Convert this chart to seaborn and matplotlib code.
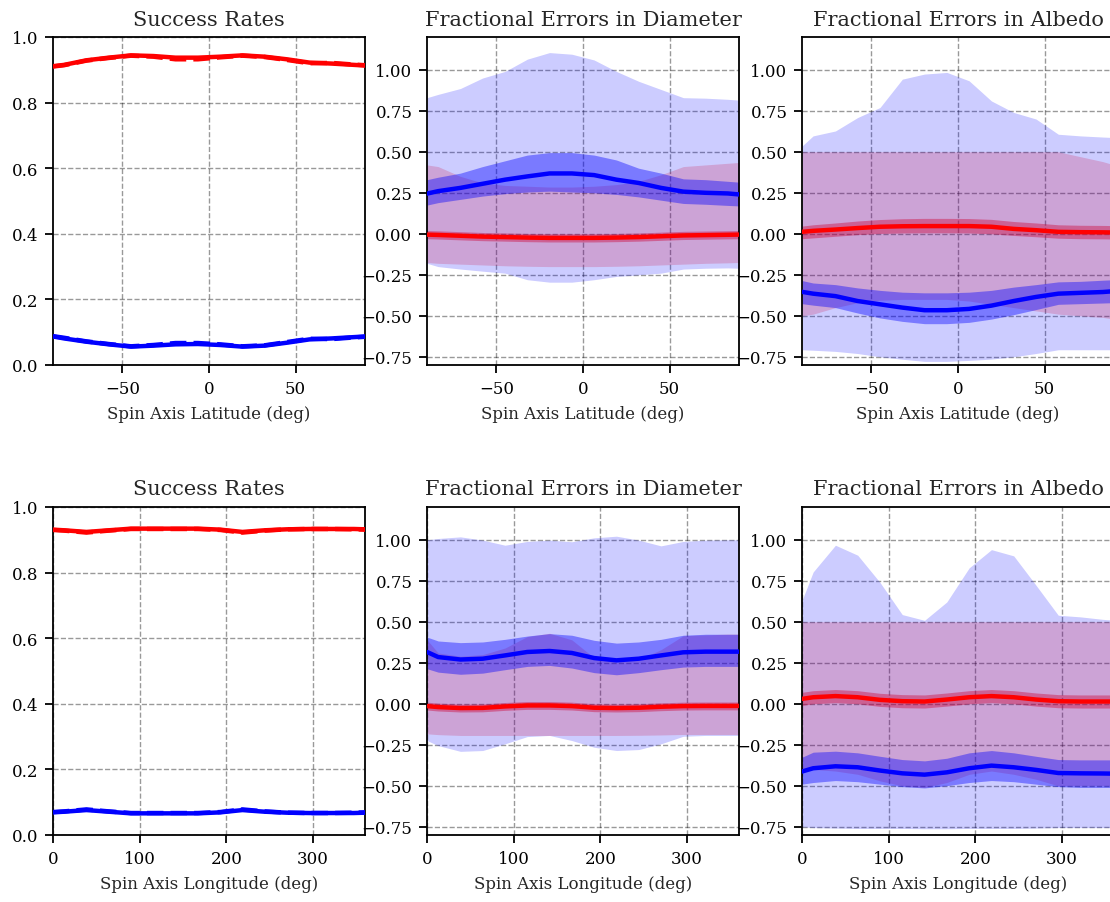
import matplotlib
matplotlib.use("Agg")
import matplotlib.pyplot as plt
import seaborn as sns
import pandas as pd

# ---------------- data ----------------
lat = [-90, -83.6, -70.7, -57.9, -45.0, -32.1, -19.3, -6.4, 6.4, 19.3, 32.1, 45.0, 57.9, 70.7, 83.6, 90]
lon = [0, 12.9, 38.6, 64.3, 90.0, 115.7, 141.4, 167.1, 192.9, 218.6, 244.3, 270.0, 295.7, 321.4, 347.1, 360]

# success rates vs latitude
succ_lat_red = [0.911, 0.915, 0.929, 0.937, 0.944, 0.942, 0.937, 0.937, 0.940, 0.944, 0.940, 0.932, 0.922, 0.919, 0.915, 0.913]
succ_lat_red_alt = [0.910, 0.914, 0.928, 0.936, 0.943, 0.940, 0.932, 0.932, 0.938, 0.943, 0.939, 0.930, 0.920, 0.921, 0.916, 0.914]
succ_lat_blue = [0.087, 0.081, 0.071, 0.063, 0.056, 0.059, 0.063, 0.064, 0.061, 0.056, 0.059, 0.068, 0.078, 0.081, 0.085, 0.087]
succ_lat_blue_alt = [0.088, 0.083, 0.072, 0.064, 0.057, 0.061, 0.067, 0.067, 0.063, 0.057, 0.060, 0.070, 0.080, 0.079, 0.084, 0.086]

# success rates vs longitude
succ_lon_red = [0.931, 0.929, 0.924, 0.929, 0.934, 0.934, 0.934, 0.934, 0.931, 0.924, 0.929, 0.932, 0.933, 0.933, 0.933, 0.932]
succ_lon_red_alt = [0.930, 0.928, 0.922, 0.928, 0.933, 0.933, 0.933, 0.933, 0.930, 0.922, 0.928, 0.932, 0.933, 0.933, 0.932, 0.931]
succ_lon_blue = [0.069, 0.071, 0.076, 0.071, 0.066, 0.066, 0.066, 0.066, 0.069, 0.076, 0.071, 0.068, 0.067, 0.067, 0.067, 0.068]
succ_lon_blue_alt = [0.070, 0.072, 0.078, 0.072, 0.067, 0.067, 0.067, 0.067, 0.070, 0.078, 0.072, 0.068, 0.067, 0.067, 0.068, 0.069]

# diameter errors vs latitude
dlat_blue_line = [0.245, 0.26, 0.28, 0.305, 0.33, 0.35, 0.368, 0.368, 0.358, 0.33, 0.31, 0.28, 0.257, 0.25, 0.246, 0.24]
dlat_blue_in_hi = [0.33, 0.345, 0.37, 0.41, 0.445, 0.48, 0.495, 0.495, 0.48, 0.45, 0.40, 0.37, 0.335, 0.33, 0.32, 0.315]
dlat_blue_in_lo = [0.175, 0.19, 0.21, 0.23, 0.245, 0.255, 0.26, 0.255, 0.25, 0.24, 0.225, 0.205, 0.185, 0.18, 0.173, 0.17]
dlat_blue_out_hi = [0.83, 0.85, 0.886, 0.95, 0.99, 1.065, 1.105, 1.095, 1.06, 0.99, 0.93, 0.88, 0.83, 0.827, 0.82, 0.815]
dlat_blue_out_lo = [-0.18, -0.20, -0.215, -0.228, -0.24, -0.28, -0.295, -0.295, -0.28, -0.26, -0.25, -0.24, -0.215, -0.21, -0.208, -0.21]
dlat_red_line = [-0.005, -0.007, -0.012, -0.017, -0.02, -0.023, -0.025, -0.025, -0.025, -0.023, -0.02, -0.015, -0.01, -0.008, -0.006, -0.005]
dlat_red_in_hi = [0.02, 0.018, 0.013, 0.008, 0.005, 0.002, 0.0, 0.0, 0.0, 0.002, 0.005, 0.01, 0.015, 0.017, 0.019, 0.02]
dlat_red_in_lo = [-0.03, -0.032, -0.037, -0.042, -0.045, -0.048, -0.05, -0.05, -0.05, -0.048, -0.045, -0.04, -0.035, -0.033, -0.031, -0.03]
dlat_red_out_hi = [0.42, 0.41, 0.35, 0.31, 0.295, 0.29, 0.285, 0.285, 0.29, 0.30, 0.32, 0.36, 0.41, 0.42, 0.43, 0.435]
dlat_red_out_lo = [-0.175, -0.18, -0.185, -0.19, -0.195, -0.198, -0.2, -0.2, -0.2, -0.198, -0.195, -0.19, -0.185, -0.18, -0.177, -0.175]

# albedo errors vs latitude
alat_blue_line = [-0.354, -0.365, -0.38, -0.41, -0.43, -0.45, -0.466, -0.466, -0.458, -0.438, -0.41, -0.385, -0.365, -0.36, -0.355, -0.35]
alat_blue_in_hi = [-0.285, -0.30, -0.31, -0.33, -0.345, -0.356, -0.36, -0.36, -0.356, -0.345, -0.325, -0.31, -0.293, -0.29, -0.283, -0.28]
alat_blue_in_lo = [-0.426, -0.435, -0.45, -0.483, -0.513, -0.534, -0.548, -0.548, -0.54, -0.52, -0.493, -0.462, -0.43, -0.426, -0.422, -0.42]
alat_blue_out_hi = [0.535, 0.597, 0.627, 0.709, 0.77, 0.943, 0.974, 0.984, 0.933, 0.81, 0.74, 0.70, 0.607, 0.597, 0.59, 0.587]
alat_blue_out_lo = [-0.707, -0.71, -0.717, -0.73, -0.75, -0.765, -0.778, -0.778, -0.772, -0.764, -0.75, -0.73, -0.707, -0.707, -0.707, -0.707]
alat_red_line = [0.012, 0.018, 0.026, 0.035, 0.043, 0.046, 0.047, 0.047, 0.047, 0.043, 0.03, 0.022, 0.012, 0.01, 0.009, 0.008]
alat_red_in_hi = [0.047, 0.055, 0.066, 0.078, 0.087, 0.092, 0.094, 0.094, 0.093, 0.088, 0.075, 0.066, 0.055, 0.052, 0.051, 0.05]
alat_red_in_lo = [-0.03, -0.025, -0.015, -0.005, 0.002, 0.005, 0.006, 0.006, 0.005, 0.0, -0.01, -0.018, -0.027, -0.03, -0.031, -0.032]
alat_red_out_hi = [0.50, 0.50, 0.50, 0.50, 0.50, 0.50, 0.50, 0.50, 0.50, 0.50, 0.50, 0.50, 0.50, 0.47, 0.44, 0.42]
alat_red_out_lo = [-0.50, -0.49, -0.45, -0.42, -0.405, -0.40, -0.40, -0.40, -0.41, -0.43, -0.45, -0.47, -0.49, -0.50, -0.51, -0.52]

# diameter errors vs longitude
dlon_blue_line = [0.316, 0.285, 0.27, 0.275, 0.295, 0.316, 0.322, 0.31, 0.279, 0.265, 0.275, 0.295, 0.314, 0.318, 0.318, 0.318]
dlon_blue_in_hi = [0.407, 0.383, 0.373, 0.377, 0.393, 0.413, 0.428, 0.418, 0.387, 0.37, 0.377, 0.393, 0.418, 0.424, 0.424, 0.424]
dlon_blue_in_lo = [0.214, 0.193, 0.18, 0.187, 0.208, 0.228, 0.234, 0.218, 0.19, 0.177, 0.19, 0.208, 0.224, 0.228, 0.228, 0.228]
dlon_blue_out_hi = [1.0, 1.008, 1.018, 0.998, 0.967, 0.99, 0.998, 0.988, 1.012, 1.022, 0.998, 0.963, 0.99, 0.998, 1.0, 1.0]
dlon_blue_out_lo = [-0.224, -0.255, -0.29, -0.285, -0.244, -0.20, -0.193, -0.224, -0.265, -0.285, -0.279, -0.244, -0.198, -0.193, -0.193, -0.193]
dlon_red_line = [-0.014, -0.02, -0.026, -0.025, -0.016, -0.01, -0.01, -0.014, -0.024, -0.026, -0.024, -0.018, -0.014, -0.013, -0.013, -0.013]
dlon_red_in_hi = [0.01, 0.004, -0.002, -0.001, 0.008, 0.014, 0.014, 0.01, 0.0, -0.002, 0.0, 0.006, 0.01, 0.011, 0.011, 0.011]
dlon_red_in_lo = [-0.038, -0.044, -0.05, -0.049, -0.04, -0.034, -0.034, -0.038, -0.048, -0.05, -0.048, -0.042, -0.038, -0.037, -0.037, -0.037]
dlon_red_out_hi = [0.39, 0.31, 0.29, 0.30, 0.34, 0.41, 0.43, 0.39, 0.28, 0.255, 0.27, 0.33, 0.415, 0.42, 0.425, 0.425]
dlon_red_out_lo = [-0.183, -0.188, -0.193, -0.193, -0.193, -0.193, -0.193, -0.193, -0.193, -0.193, -0.192, -0.19, -0.187, -0.187, -0.187, -0.187]

# albedo errors vs longitude
alon_blue_line = [-0.413, -0.393, -0.381, -0.387, -0.407, -0.424, -0.432, -0.418, -0.393, -0.377, -0.387, -0.403, -0.422, -0.424, -0.425, -0.426]
alon_blue_in_hi = [-0.326, -0.295, -0.289, -0.299, -0.32, -0.34, -0.348, -0.332, -0.299, -0.285, -0.299, -0.32, -0.34, -0.342, -0.342, -0.342]
alon_blue_in_lo = [-0.49, -0.48, -0.468, -0.475, -0.49, -0.505, -0.513, -0.499, -0.48, -0.468, -0.475, -0.49, -0.505, -0.51, -0.51, -0.51]
alon_blue_out_hi = [0.63, 0.804, 0.967, 0.906, 0.74, 0.544, 0.509, 0.621, 0.829, 0.94, 0.902, 0.723, 0.54, 0.53, 0.515, 0.51]
alon_blue_out_lo = [-0.75, -0.755, -0.758, -0.76, -0.76, -0.76, -0.762, -0.762, -0.76, -0.76, -0.76, -0.758, -0.755, -0.755, -0.755, -0.755]
alon_red_line = [0.03, 0.04, 0.047, 0.04, 0.024, 0.016, 0.014, 0.026, 0.04, 0.047, 0.04, 0.026, 0.016, 0.014, 0.014, 0.014]
alon_red_in_hi = [0.07, 0.08, 0.087, 0.08, 0.064, 0.056, 0.054, 0.066, 0.08, 0.087, 0.08, 0.066, 0.056, 0.054, 0.054, 0.054]
alon_red_in_lo = [-0.01, 0.0, 0.007, 0.0, -0.016, -0.024, -0.026, -0.014, 0.0, 0.007, 0.0, -0.014, -0.024, -0.026, -0.026, -0.026]
alon_red_out_hi = [0.50, 0.50, 0.50, 0.50, 0.50, 0.50, 0.50, 0.50, 0.50, 0.50, 0.50, 0.50, 0.50, 0.50, 0.50, 0.50]
alon_red_out_lo = [-0.42, -0.40, -0.41, -0.43, -0.47, -0.50, -0.51, -0.48, -0.43, -0.41, -0.43, -0.46, -0.50, -0.50, -0.50, -0.50]

titles = ["Success Rates", "Fractional Errors in Diameter", "Fractional Errors in Albedo"]
xlabels = ["Spin Axis Latitude (deg)", "Spin Axis Longitude (deg)"]
lat_ticks = [-50, 0, 50]
lon_ticks = [0, 100, 200, 300]
succ_ticks = [0.0, 0.2, 0.4, 0.6, 0.8, 1.0]
err_ticks = [-0.75, -0.50, -0.25, 0.00, 0.25, 0.50, 0.75, 1.00]

# ---------------- style ----------------
sns.set_style("ticks")
plt.rcParams["font.family"] = ["DejaVu Serif"]
plt.rcParams["mathtext.fontset"] = "dejavuserif"
plt.rcParams["font.size"] = 12
plt.rcParams["xtick.labelsize"] = 12
plt.rcParams["ytick.labelsize"] = 12
plt.rcParams["axes.labelsize"] = 12
plt.rcParams["axes.titlesize"] = 15
plt.rcParams["axes.edgecolor"] = "black"
plt.rcParams["axes.linewidth"] = 1.3
plt.rcParams["xtick.color"] = "black"
plt.rcParams["ytick.color"] = "black"
plt.rcParams["xtick.major.width"] = 1.3
plt.rcParams["ytick.major.width"] = 1.3
plt.rcParams["xtick.major.size"] = 5.5
plt.rcParams["ytick.major.size"] = 5.5
plt.rcParams["xtick.major.pad"] = 5
plt.rcParams["ytick.major.pad"] = 5
plt.rcParams["xtick.direction"] = "out"
plt.rcParams["ytick.direction"] = "out"

W, H = 1110, 903
fig = plt.figure(figsize=(W / 100, H / 100), dpi=100)

col_left = [53, 427, 802]
row_top = [38, 508]
ax_w, ax_h = 312, 328

LW = 3.2


def make_ax(r, c):
    x0 = col_left[c] / W
    y0 = 1 - (row_top[r] + ax_h) / H
    return fig.add_axes([x0, y0, ax_w / W, ax_h / H])


def style_ax(ax, r, c):
    ax.grid(True, color="black", alpha=0.4, linestyle="--", linewidth=1.0)
    ax.set_title(titles[c], fontsize=15, pad=9)
    ax.set_xlabel(xlabels[r], fontsize=12, labelpad=6)
    ax.set_ylabel("")
    for s in ax.spines.values():
        s.set_visible(True)
        s.set_color("black")
    if r == 0:
        ax.set_xlim(-90, 90)
        ax.set_xticks(lat_ticks)
    else:
        ax.set_xlim(0, 360)
        ax.set_xticks(lon_ticks)
    if c == 0:
        ax.set_ylim(0, 1)
        ax.set_yticks(succ_ticks)
    else:
        ax.set_ylim(-0.8, 1.2)
        ax.set_yticks(err_ticks)
    ax.tick_params(axis="both", which="major", labelsize=12, length=5.5, pad=5)
    if ax.get_legend() is not None:
        ax.get_legend().remove()


def success_panel(ax, x, red, red_alt, blue, blue_alt):
    df = pd.DataFrame({"x": x, "red": red, "red_alt": red_alt, "blue": blue, "blue_alt": blue_alt})
    sns.lineplot(data=df, x="x", y="red", ax=ax, color="red", lw=LW, zorder=3)
    sns.lineplot(data=df, x="x", y="red_alt", ax=ax, color="red", lw=LW, ls="--", zorder=3)
    sns.lineplot(data=df, x="x", y="blue", ax=ax, color="blue", lw=LW, zorder=3)
    sns.lineplot(data=df, x="x", y="blue_alt", ax=ax, color="blue", lw=LW, ls="--", zorder=3)


def error_panel(ax, x, b_line, b_ihi, b_ilo, b_ohi, b_olo, r_line, r_ihi, r_ilo, r_ohi, r_olo):
    df = pd.DataFrame({"x": x, "b": b_line, "r": r_line})
    ax.fill_between(x, r_olo, r_ohi, color="red", alpha=0.2, lw=0, zorder=1)
    ax.fill_between(x, r_ilo, r_ihi, color="red", alpha=0.4, lw=0, zorder=1)
    ax.fill_between(x, b_olo, b_ohi, color="blue", alpha=0.2, lw=0, zorder=1)
    ax.fill_between(x, b_ilo, b_ihi, color="blue", alpha=0.4, lw=0, zorder=1)
    sns.lineplot(data=df, x="x", y="b", ax=ax, color="blue", lw=LW, zorder=3)
    sns.lineplot(data=df, x="x", y="r", ax=ax, color="red", lw=LW, zorder=3)


# row 1: latitude
ax = make_ax(0, 0)
success_panel(ax, lat, succ_lat_red, succ_lat_red_alt, succ_lat_blue, succ_lat_blue_alt)
style_ax(ax, 0, 0)

ax = make_ax(0, 1)
error_panel(ax, lat, dlat_blue_line, dlat_blue_in_hi, dlat_blue_in_lo, dlat_blue_out_hi, dlat_blue_out_lo,
            dlat_red_line, dlat_red_in_hi, dlat_red_in_lo, dlat_red_out_hi, dlat_red_out_lo)
style_ax(ax, 0, 1)

ax = make_ax(0, 2)
error_panel(ax, lat, alat_blue_line, alat_blue_in_hi, alat_blue_in_lo, alat_blue_out_hi, alat_blue_out_lo,
            alat_red_line, alat_red_in_hi, alat_red_in_lo, alat_red_out_hi, alat_red_out_lo)
style_ax(ax, 0, 2)

# row 2: longitude
ax = make_ax(1, 0)
success_panel(ax, lon, succ_lon_red, succ_lon_red_alt, succ_lon_blue, succ_lon_blue_alt)
style_ax(ax, 1, 0)

ax = make_ax(1, 1)
error_panel(ax, lon, dlon_blue_line, dlon_blue_in_hi, dlon_blue_in_lo, dlon_blue_out_hi, dlon_blue_out_lo,
            dlon_red_line, dlon_red_in_hi, dlon_red_in_lo, dlon_red_out_hi, dlon_red_out_lo)
style_ax(ax, 1, 1)

ax = make_ax(1, 2)
error_panel(ax, lon, alon_blue_line, alon_blue_in_hi, alon_blue_in_lo, alon_blue_out_hi, alon_blue_out_lo,
            alon_red_line, alon_red_in_hi, alon_red_in_lo, alon_red_out_hi, alon_red_out_lo)
style_ax(ax, 1, 2)

fig.savefig("out.png", dpi=100)
